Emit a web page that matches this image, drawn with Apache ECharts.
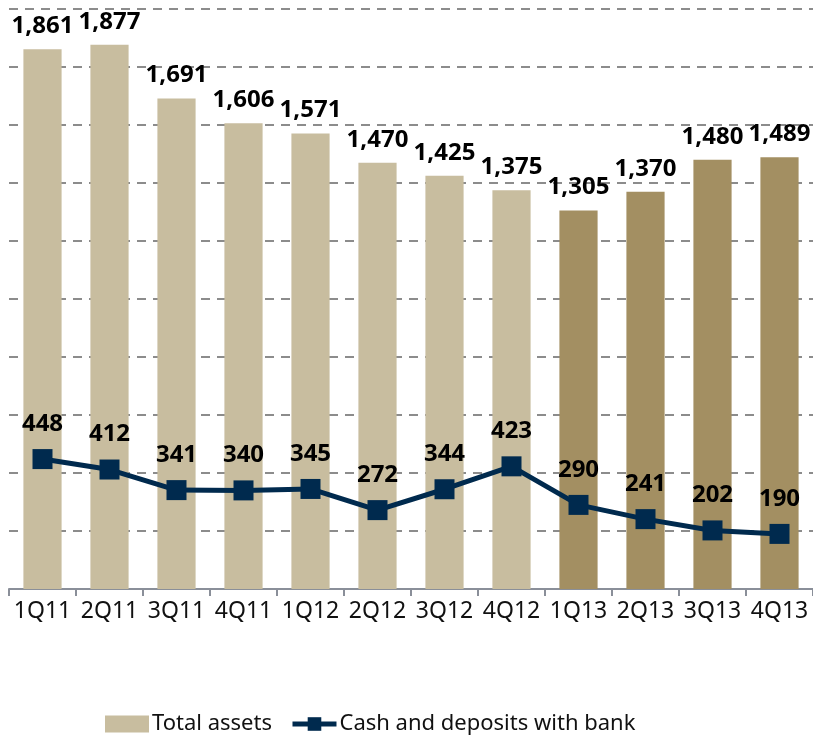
<!DOCTYPE html>
<html>
<head>
<meta charset="utf-8">
<script src="https://cdn.jsdelivr.net/npm/echarts@6/dist/echarts.min.js"></script>
<style>html,body{margin:0;padding:0;background:#fff;}#c{width:813px;height:739px;}</style>
</head>
<body>
<div id="c"></div>
<script>
const categories = ['1Q11','2Q11','3Q11','4Q11','1Q12','2Q12','3Q12','4Q12','1Q13','2Q13','3Q13','4Q13'];
const totalAssets = [1861,1877,1691,1606,1571,1470,1425,1375,1305,1370,1480,1489];
const cashDeposits = [448,412,341,340,345,272,344,423,290,241,202,190];
const darkFromIndex = 8;

const LIGHT = '#c8bd9f';
const DARK = '#a38f62';
const NAVY = '#002a4e';
const FONT = 'Noto Sans';

function fmt(v){ return String(v).replace(/\B(?=(\d{3})+(?!\d))/g, ','); }

const chart = echarts.init(document.getElementById('c'));
chart.setOption({
  animation: false,
  textStyle: { fontFamily: FONT },
  grid: { left: 9, right: 0, top: 9, bottom: 150, containLabel: false },
  legend: {
    bottom: -1,
    left: 100,
    itemGap: 18,
    itemWidth: 44,
    itemHeight: 17,
    textStyle: { fontFamily: FONT, fontSize: 22, color: '#111', padding: [0, 0, 0, -2] },
    data: [
      { name: 'Total assets', icon: 'rect', itemStyle: { color: LIGHT } },
      { name: 'Cash and deposits with bank', lineStyle: { width: 5, color: NAVY }, itemStyle: { color: NAVY } }
    ]
  },
  xAxis: {
    type: 'category',
    data: categories,
    axisLine: { lineStyle: { color: '#8a8f99', width: 2 } },
    axisTick: { show: true, length: 7, lineStyle: { color: '#8a8f99', width: 2 } },
    axisLabel: { interval: 0, fontFamily: FONT, fontSize: 23, color: '#111', margin: 11 }
  },
  yAxis: {
    type: 'value',
    min: 0, max: 2000, interval: 200,
    axisLine: { show: false },
    axisTick: { show: false },
    axisLabel: { show: false },
    splitLine: { lineStyle: { color: '#8c8c8c', type: [9, 7], width: 2 } }
  },
  series: [
    {
      name: 'Total assets',
      type: 'bar',
      barCategoryGap: '43%',
      data: totalAssets.map((v, i) => ({ value: v, itemStyle: { color: i >= darkFromIndex ? DARK : LIGHT } })),
      itemStyle: { color: LIGHT },
      label: {
        show: true, position: 'top', distance: 11,
        fontFamily: FONT, fontSize: 24, fontWeight: 'bold', color: '#000',
        formatter: p => fmt(p.value)
      }
    },
    {
      name: 'Cash and deposits with bank',
      type: 'line',
      data: cashDeposits,
      symbol: 'rect',
      symbolSize: 20,
      lineStyle: { color: NAVY, width: 5 },
      itemStyle: { color: NAVY },
      label: {
        show: true, position: 'top', distance: 13,
        fontFamily: FONT, fontSize: 24, fontWeight: 'bold', color: '#000',
        formatter: p => fmt(p.value)
      }
    }
  ]
});
</script>
</body>
</html>
